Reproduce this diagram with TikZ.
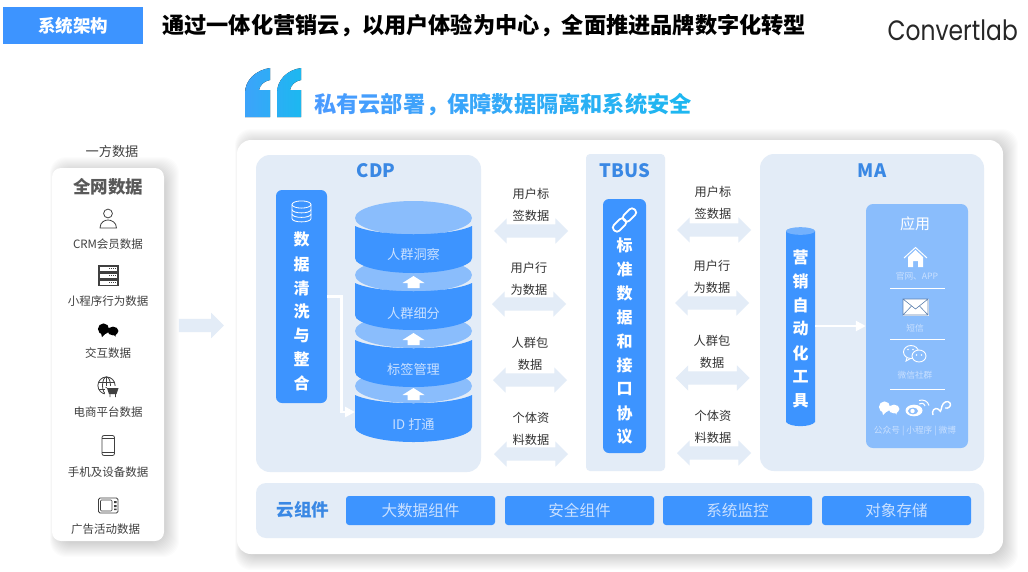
\documentclass[tikz,border=0pt]{standalone}
\usepackage{fontspec}
\setmainfont{Noto Sans CJK SC}
\newfontfamily\logofont[FakeStretch=.835]{Poppins}
\usetikzlibrary{arrows.meta}
\usetikzlibrary{shapes.arrows}
\definecolor{barblue}{HTML}{3D94FF}
\definecolor{panelblue}{HTML}{E3ECF7}
\definecolor{paleblue}{HTML}{8ABDFC}
\definecolor{headblue}{HTML}{3A88E4}
\definecolor{softtext}{HTML}{C9E0FF}
\definecolor{darktext}{HTML}{404040}
\definecolor{gradstart}{HTML}{4A9BFF}
\definecolor{gradend}{HTML}{1CB8F0}
\newcommand{\widecomma}{\hbox to 1em{\hss\symbol{"FF0C}\kern-.08em\hss}}
\newcommand{\softshadow}[4]{%
  \foreach \g in {1,...,18}
    \fill[black, opacity=.0115, rounded corners=16pt] (#1+7-.5*\g,#2-\g+7) rectangle (#3+\g-3,#4+\g-2);
}
\tikzset{
  panel/.style={fill=panelblue},
  barnode/.style={fill=barblue, rounded corners=6pt, inner sep=0pt},
  barchar/.style={font=\fontsize{16}{16}\selectfont\bfseries, text=white, inner sep=0pt},
  panelhead/.style={font=\fontsize{18.5}{20}\selectfont\bfseries, text=headblue, inner sep=0pt},
  datalabel/.style={font=\fontsize{11.5}{12}\selectfont, text=darktext, inner sep=0pt},
  apptext/.style={font=\fontsize{8.7}{10}\selectfont, text=softtext, inner sep=0pt},
  layertext/.style={font=\fontsize{13.2}{14}\selectfont, text=softtext, inner sep=0pt},
  swaplabel/.style={font=\fontsize{12.2}{22}\selectfont, text=black!80, align=center, inner sep=0pt},
  swaparrow/.style={double arrow, fill=panelblue, inner sep=6.5pt, minimum width=25pt, minimum height=74pt, double arrow head extend=6pt},
  flowline/.style={draw=white, line width=2.6pt, -{Triangle[length=10pt,width=10pt]}},
  component/.style={fill=barblue, rounded corners=3pt, minimum width=149pt, minimum height=29pt, inner sep=0pt, text=softtext, font=\fontsize{15.6}{16}\selectfont},
  iconline/.style={draw=darktext, line width=.8pt},
  appline/.style={draw=white, line width=1pt},
  pics/chatpair/.style={code={
    \fill[pic actions] (-4.5,-1) ellipse [x radius=5.6pt, y radius=5.6pt];
    \fill[pic actions] (-7,3) -- (-6,7) -- (-2,3) -- cycle;
    \fill[pic actions] (5,1) ellipse [x radius=5.4pt, y radius=4.4pt];
    \fill[pic actions] (5,4) -- (7.5,6.5) -- (8,3) -- cycle;
  }}
}
\begin{document}
\begin{tikzpicture}[x=1pt, y=-1pt]
  \useasboundingbox (0,0) rectangle (1028,571);
  \fill[white] (0,0) rectangle (1028,571);
  \node[fill=barblue, minimum width=140pt, minimum height=37pt, inner sep=0pt, text=white, font=\fontsize{17.5}{18}\selectfont\bfseries] (tag) at (73,25.5) {系统架构};
  \node[anchor=west, inner sep=0pt, font=\fontsize{22.2}{24}\selectfont\bfseries] (title) at (162,26) {通过一体化营销云\widecomma 以用户体验为中心\widecomma 全面推进品牌数字化转型};
  \node[anchor=east, inner sep=0pt, text=black!85, font=\logofont\fontsize{28}{30}\selectfont] (logo) at (1018,30) {Convertlab};
  \fill[left color=gradstart!70!gradend, right color=gradstart!40!gradend] (245,117) -- (245,93) .. controls (245,80) and (256,70) .. (270,68) -- (270,80) .. controls (264,81) and (260,85) .. (259,90) -- (270,90) -- (270,117) -- cycle;
  \fill[left color=gradstart!30!gradend, right color=gradend] (277,117) -- (277,93) .. controls (277,80) and (287,70) .. (301,68) -- (301,80) .. controls (295,81) and (291,85) .. (290,90) -- (301,90) -- (301,117) -- cycle;
  \node[anchor=west, inner sep=0pt, font=\fontsize{22.2}{24}\selectfont\bfseries] (subtitle) at (314,105) {%
    \foreach \c [count=\i] in {私,有,云,部,署,\widecomma,保,障,数,据,隔,离,和,系,统,安,全}{%
      \pgfmathtruncatemacro{\p}{100-(\i-1)*6}\textcolor{gradstart!\p!gradend}{\c}}};

  \softshadow{52}{168}{164}{541}
  \fill[white, rounded corners=9pt] (52,168) rectangle (164,541);
  \node[datalabel, font=\fontsize{13.2}{14}\selectfont] (firstparty) at (112,151) {一方数据};
  \node[inner sep=0pt, text=black!65, font=\fontsize{17.5}{18}\selectfont\bfseries] (alldata) at (108,187) {全网数据};
  \node[datalabel] (crm) at (108,244.5) {CRM会员数据};
  \node[datalabel] (miniapp) at (108,301.5) {小程序行为数据};
  \node[datalabel] (interact) at (108,353.5) {交互数据};
  \node[datalabel] (shop) at (108,412) {电商平台数据};
  \node[datalabel] (device) at (108,472) {手机及设备数据};
  \node[datalabel] (adcamp) at (105.5,529.5) {广告活动数据};
  \draw[iconline] (108,213.5) circle (4.4pt);
  \draw[iconline] (100,228) .. controls (100,222) and (105,220) .. (108,220) .. controls (111,220) and (116.5,222) .. (116.5,228) -- cycle;
  \fill[darktext] (98,265) rectangle (118.5,286);
  \foreach \y in {267,274,281}{
    \fill[white] (99.5,\y) rectangle (117,\y+3.6);
    \foreach \x in {109,111,113,115}
      \fill[darktext] (\x,\y+1.2) rectangle (\x+1,\y+2.4);
  }
  \pic[fill=black] (chatblack) at (108,330) {chatpair};
  \draw[iconline] (106.5,385.5) circle (8.6pt);
  \draw[iconline] (106.5,385.5) ellipse [x radius=4pt, y radius=8.6pt];
  \draw[iconline, line width=.6pt] (98.5,382) -- (115,382) (98.5,389) -- (115,389) (106.5,377) -- (106.5,394);
  \fill[white] (105,386) rectangle (120,398);
  \fill[darktext] (107,388) -- (118.5,388) -- (116.5,394) -- (109,394) -- cycle;
  \draw[iconline, line width=.6pt] (105.5,387) -- (107,388) (110,394) -- (110,397) (115.5,394) -- (115.5,397);
  \draw[iconline, rounded corners=2pt] (102,435.5) rectangle (114.5,455.5);
  \draw[iconline, line width=.6pt] (102,438.5) -- (114.5,438.5) (102,452) -- (114.5,452);
  \draw[iconline, rounded corners=1.5pt] (98.5,498) rectangle (118,513);
  \draw[iconline, rounded corners=1pt, line width=.6pt] (100.5,500) rectangle (112,511);
  \fill[darktext] (114,501) rectangle (116.5,503) (114,505) rectangle (116.5,507) (114,508.5) rectangle (116.5,510);

  \node[single arrow, fill=panelblue, inner sep=6.5pt, minimum width=25pt, minimum height=45pt, single arrow head extend=6pt] (inflow) at (198,325.5) {};

  \softshadow{237}{140}{1003}{554}
  \fill[white, rounded corners=14pt] (237,140) rectangle (1003,554);
  \fill[panel, rounded corners=14pt] (256,155) rectangle (481,472);
  \fill[panel, rounded corners=4pt] (586,154) rectangle (665,471);
  \fill[panel, rounded corners=14pt] (760,154) rectangle (984,471);
  \fill[panel, rounded corners=10pt] (256,483) rectangle (984,538);
  \node[panelhead] (cdp) at (376,171) {CDP};
  \node[panelhead] (tbus) at (625,171) {TBUS};
  \node[panelhead] (ma) at (872,171) {MA};

  \node[barnode, minimum width=51pt, minimum height=213pt] (cleanbar) at (301.5,296.5) {};
  \foreach \y/\ch [count=\i] in {239/数,264/据,288/清,311/洗,335/与,359/整,383/合}
    \node[barchar] (clean\i) at (301.5,\y) {\ch};
  \draw[white, line width=.8pt] (292,204.5) -- (292,218.5) .. controls (292,223) and (311,223) .. (311,218.5) -- (311,204.5);
  \draw[white, line width=.8pt] (301.5,204.5) ellipse [x radius=9.5pt, y radius=3.6pt];
  \draw[white, line width=.8pt] (292,209.5) .. controls (292,214) and (311,214) .. (311,209.5);
  \draw[white, line width=.8pt] (292,214) .. controls (292,218.5) and (311,218.5) .. (311,214);

  \foreach \c/\t/\b/\m/\lab [count=\i] in {386/395/427/424/ID 打通, 331/340/372/369/标签管理, 275/283/315/313/人群细分, 218/226/258/254/人群洞察}{
    \fill[paleblue] (413.5,\c) ellipse [x radius=58.5pt, y radius=17pt];
    \fill[barblue] (355,\t) .. controls (378,\t+11) and (449,\t+11) .. (472,\t) -- (472,\b) .. controls (472,\b+8) and (446,\b+15) .. (413.5,\b+15) .. controls (381,\b+15) and (355,\b+8) .. (355,\b) -- cycle;
    \node[layertext] (layer\i) at (413.5,\m) {\lab};
  }
  \foreach \y in {276,333,388}
    \fill[white] (413.5,\y) -- (424.5,\y+7) -- (419.5,\y+7) -- (419.5,\y+12) -- (407.5,\y+12) -- (407.5,\y+7) -- (402.5,\y+7) -- cycle;
  \coordinate (idin) at (355,412);
  \draw[flowline] (cleanbar.east) -- ++(14,0) |- (idin);

  \node[barnode, minimum width=43pt, minimum height=254pt] (stdbar) at (624.5,326) {};
  \foreach \y/\ch [count=\i] in {245/标,269/准,293/数,317/据,341/和,365/接,389/口,413/协,437/议}
    \node[barchar] (std\i) at (624.5,\y) {\ch};
  \node[draw=white, line width=1.8pt, rounded corners=3.5pt, rotate=45, minimum width=15pt, minimum height=8pt, inner sep=0pt] (linka) at (619.5,225) {};
  \node[draw=white, line width=1.8pt, rounded corners=3.5pt, rotate=45, minimum width=15pt, minimum height=8pt, inner sep=0pt] (linkb) at (629.5,215) {};

  \foreach \x/\y/\lx/\ly/\top/\low [count=\i] in {
    531/231/531/205/用户标/签数据, 529/304/529/279/用户行/为数据, 530/380/530/354/人群包/数据, 531/454/531/429/个体资/料数据,
    714/230/713/203/用户标/签数据, 712/303/712/277/用户行/为数据, 712.5/378/712/352/人群包/数据, 714/453/713/427/个体资/料数据}{
    \node[swaparrow] (swap\i) at (\x,\y) {};
    \node[swaplabel] (swaptext\i) at (\lx,\ly) {\top\\\low};
  }

  \fill[barblue] (786,231) -- (786,422) .. controls (790,427.5) and (811,427.5) .. (815,422) -- (815,231) -- cycle;
  \node[minimum width=29pt, minimum height=195pt, inner sep=0pt] (mabar) at (800.5,328) {};
  \fill[paleblue!70!barblue] (800.5,231) ellipse [x radius=14.5pt, y radius=3.8pt];
  \foreach \y/\ch [count=\i] in {257/营,281/销,305/自,329/动,353/化,377/工,401/具}
    \node[barchar] (mark\i) at (800.5,\y) {\ch};
  \node[fill=paleblue, rounded corners=7pt, minimum width=102pt, minimum height=244pt, inner sep=0pt] (appbox) at (917,326) {};
  \draw[flowline] (mabar.east |- appbox.west) -- (appbox.west);
  \node[inner sep=0pt, text=white, font=\fontsize{15}{16}\selectfont] (apphead) at (915,224) {应用};
  \fill[white] (908,257) -- (915.5,250) -- (923,257) -- (923,267) -- (918,267) -- (918,261) -- (913,261) -- (913,267) -- (908,267) -- cycle;
  \draw[white, line width=1pt] (904,258) -- (915.5,247.5) -- (927,258);
  \node[apptext] (appweb) at (917,276.5) {官网、APP};
  \draw[appline] (890,288.5) -- (945,288.5);
  \draw[white, fill=white, line width=.8pt] (903,299) rectangle (928,315);
  \draw[paleblue!70!black, line width=.6pt] (903,299) rectangle (928,315) (903,299) -- (915.5,309) -- (928,299) (903,315) -- (911.5,306) (928,315) -- (919.5,306);
  \node[apptext] (appsms) at (915,328) {短信};
  \draw[appline] (890,339) -- (945,339);
  \draw[white, line width=.9pt] (911,352) ellipse [x radius=7.5pt, y radius=6.5pt];
  \draw[white, line width=.9pt] (907,357.5) -- (906,361) -- (910.5,358.5);
  \draw[white, fill=paleblue, line width=.9pt] (919,356) ellipse [x radius=7pt, y radius=6pt];
  \fill[white] (916.5,355) circle (.8pt) (921.5,355) circle (.8pt) (908,349.5) circle (.8pt) (913,349.5) circle (.8pt);
  \node[apptext] (appwechat) at (915,375) {微信社群};
  \draw[appline] (890,389) -- (945,389);
  \pic[fill=white] (chatwhite) at (889,408) {chatpair};
  \fill[white] (914,410.5) ellipse [x radius=8.5pt, y radius=5.8pt];
  \fill[paleblue] (913,411) ellipse [x radius=5pt, y radius=3.4pt];
  \fill[white] (912.5,411) circle (2.2pt);
  \draw[white, line width=1pt] (919,404) .. controls (921,402.5) and (924,403) .. (925,406) (919,400.5) .. controls (923,399) and (928,401) .. (929,405.5);
  \draw[white, line width=1.4pt] (933,415) .. controls (931,411) and (935,407) .. (938,409) .. controls (941,411) and (940,414) .. (942,406) .. controls (943,402) and (948,400) .. (950,403) .. controls (952,406) and (948,409) .. (945,408);
  \node[apptext] (appsocial) at (915,431) {公众号 | 小程序 | 微博};

  \node[inner sep=0pt, text=headblue, font=\fontsize{17.6}{18}\selectfont\bfseries] (cloudparts) at (303,510) {云组件};
  \node[component] (bigdata) at (420.5,510.5) {大数据组件};
  \node[component] (security) at (579.5,510.5) {安全组件};
  \node[component] (monitor) at (737.5,510.5) {系统监控};
  \node[component] (storage) at (896.5,510.5) {对象存储};
\end{tikzpicture}
\end{document}
